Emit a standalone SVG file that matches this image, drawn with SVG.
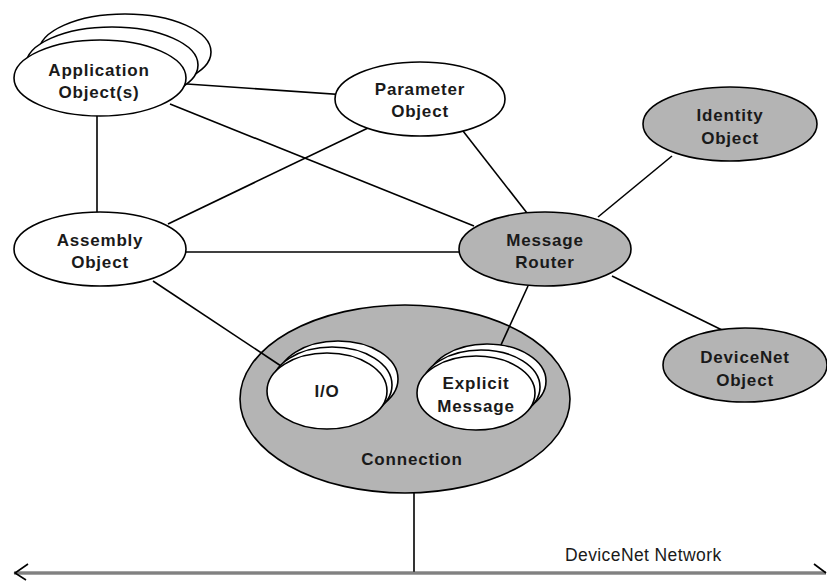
<svg xmlns="http://www.w3.org/2000/svg" width="827" height="581" viewBox="0 0 827 581">
  <style>
    .obj { fill: #ffffff; stroke: #000000; stroke-width: 1.6; }
    .dark { fill: #b4b4b4; stroke: #000000; stroke-width: 1.6; }
    .lbl { font-family: "Liberation Sans", Arial, sans-serif; font-weight: bold; font-size: 17px; letter-spacing: 0.8px; fill: #1a1a1a; text-anchor: middle; }
    .net { font-family: "Liberation Sans", Arial, sans-serif; font-size: 17.5px; letter-spacing: 0.4px; fill: #1a1a1a; }
    .link { stroke: #000000; stroke-width: 1.6; fill: none; }
  </style>

  <!-- Connection object (outer shell) -->
  <g id="connection">
    <ellipse class="dark" cx="405" cy="399" rx="165" ry="94"/>
    <text class="lbl" x="412" y="465">Connection</text>
  </g>

  <!-- Links between objects -->
  <g id="connectors">
    <line class="link" x1="100" y1="78" x2="420" y2="100"/>
    <line class="link" x1="170" y1="104" x2="474" y2="226"/>
    <line class="link" x1="97" y1="110" x2="97" y2="220"/>
    <line class="link" x1="368" y1="128" x2="168" y2="224"/>
    <line class="link" x1="463" y1="131" x2="527" y2="213"/>
    <line class="link" x1="672" y1="156" x2="598" y2="217"/>
    <line class="link" x1="180" y1="252" x2="470" y2="252"/>
    <line class="link" x1="612" y1="276" x2="722" y2="330"/>
    <line class="link" x1="153" y1="281" x2="284" y2="368"/>
    <line class="link" x1="528" y1="286" x2="495" y2="358"/>
    <line class="link" x1="414" y1="492" x2="414" y2="573"/>
  </g>

  <!-- DeviceNet network bus -->
  <g id="network">
    <line x1="14" y1="573" x2="826" y2="573" stroke="#4a4a4a" stroke-width="3.2"/>
    <line x1="14" y1="573" x2="826" y2="573" stroke="#b8b8b8" stroke-width="1.2"/>
    <polyline class="link" points="28,564 15,573 26,580"/>
    <polyline class="link" points="814,564 826,573"/>
    <text class="net" x="565" y="561">DeviceNet Network</text>
  </g>

  <g id="application-objects">
    <ellipse class="obj" cx="125" cy="52" rx="86" ry="38"/>
    <ellipse class="obj" cx="112" cy="65" rx="86" ry="38"/>
    <ellipse class="obj" cx="100" cy="78" rx="86" ry="38"/>
    <text class="lbl" x="99" y="76">Application</text>
    <text class="lbl" x="99" y="98">Object(s)</text>
  </g>

  <g id="parameter-object">
    <ellipse class="obj" cx="420" cy="99" rx="85" ry="37"/>
    <text class="lbl" x="420" y="95">Parameter</text>
    <text class="lbl" x="420" y="117">Object</text>
  </g>

  <g id="identity-object">
    <ellipse class="dark" cx="730" cy="124" rx="87" ry="37"/>
    <text class="lbl" x="730" y="121">Identity</text>
    <text class="lbl" x="730" y="144">Object</text>
  </g>

  <g id="assembly-object">
    <ellipse class="obj" cx="100" cy="249" rx="86" ry="37"/>
    <text class="lbl" x="100" y="246">Assembly</text>
    <text class="lbl" x="100" y="268">Object</text>
  </g>

  <g id="message-router">
    <ellipse class="dark" cx="545" cy="249" rx="86" ry="37"/>
    <text class="lbl" x="545" y="246">Message</text>
    <text class="lbl" x="545" y="268">Router</text>
  </g>

  <g id="devicenet-object">
    <ellipse class="dark" cx="745" cy="365" rx="82" ry="37"/>
    <text class="lbl" x="745" y="363">DeviceNet</text>
    <text class="lbl" x="745" y="386">Object</text>
  </g>

  <g id="io-connections">
    <ellipse class="obj" cx="338" cy="379" rx="60" ry="38"/>
    <ellipse class="obj" cx="332" cy="385" rx="60" ry="38"/>
    <ellipse class="obj" cx="327" cy="391" rx="60" ry="38"/>
    <text class="lbl" x="327" y="397">I/O</text>
  </g>

  <g id="explicit-message-connections">
    <ellipse class="obj" cx="487" cy="381" rx="59" ry="37"/>
    <ellipse class="obj" cx="481" cy="387" rx="59" ry="37"/>
    <ellipse class="obj" cx="476" cy="393" rx="59" ry="37"/>
    <text class="lbl" x="476" y="389">Explicit</text>
    <text class="lbl" x="476" y="412">Message</text>
  </g>
</svg>
